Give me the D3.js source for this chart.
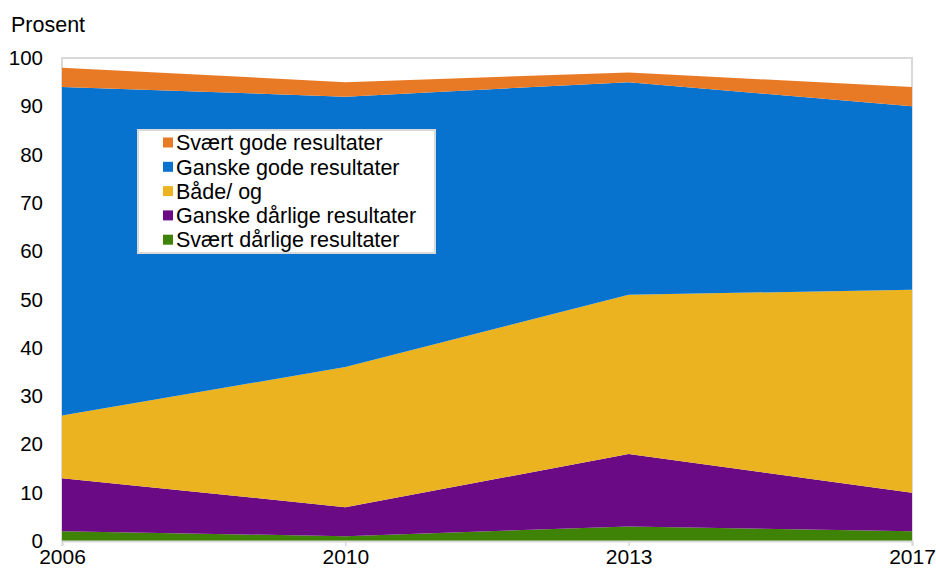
<!DOCTYPE html>
<html><head><meta charset="utf-8">
<script src="https://cdn.jsdelivr.net/npm/d3@7"></script>
<style>body{margin:0;background:#fff}svg{display:block}text{font-family:"Liberation Sans",Arial,sans-serif;fill:#000}</style>
</head><body><svg id="c" width="936" height="568"></svg>
<script>
const years = ["2006","2010","2013","2017"];
const seriesNames = ["Svært dårlige resultater","Ganske dårlige resultater","Både/ og","Ganske gode resultater","Svært gode resultater"];
const svaertDaarlige = [2,1,3,2];
const ganskeDaarlige = [11,6,15,8];
const baadeOg = [13,29,33,42];
const ganskeGode = [68,56,44,38];
const svaertGode = [4,3,2,4];
const colors = ["#3f8306","#6a0a85","#eab31f","#0873cf","#e97a25"];
const yTicks = [0,10,20,30,40,50,60,70,80,90,100];

const svg = d3.select("#c");
const L=62,R=912,T=58,B=541;
const x = d3.scalePoint().domain(years).range([L,R]);
const y = d3.scaleLinear().domain([0,100]).range([B,T]);

const table = years.map((yr,i)=>({year:yr,
  [seriesNames[0]]:svaertDaarlige[i],[seriesNames[1]]:ganskeDaarlige[i],
  [seriesNames[2]]:baadeOg[i],[seriesNames[3]]:ganskeGode[i],[seriesNames[4]]:svaertGode[i]}));
const stacked = d3.stack().keys(seriesNames)(table);

// frame
svg.append("rect").attr("x",L).attr("y",T).attr("width",R-L).attr("height",B-T)
  .attr("fill","none").attr("stroke","#d9d9d9").attr("stroke-width",2);

const area = d3.area().x(d=>x(d.data.year)).y0(d=>y(d[0])).y1(d=>y(d[1]));
svg.append("g").selectAll("path").data(stacked).join("path")
  .attr("d",area).attr("fill",(d,i)=>colors[i]);

// x axis
const xa = svg.append("g").attr("transform",`translate(0,${B})`)
  .call(d3.axisBottom(x).tickSize(5));
xa.select(".domain").attr("stroke","#d9d9d9").attr("stroke-width",2);
xa.selectAll(".tick line").attr("stroke","#d9d9d9").attr("stroke-width",1.5);
xa.selectAll("text").attr("font-size",21).attr("y",23).attr("dy",0).attr("fill","#000");

// y axis
const ya = svg.append("g").attr("transform",`translate(${L},0)`)
  .call(d3.axisLeft(y).tickValues(yTicks).tickSize(0).tickPadding(19));
ya.select(".domain").remove();
ya.selectAll("text").attr("font-size",20.5).attr("fill","#000");

svg.append("text").attr("x",11).attr("y",32).attr("font-size",21.5).text("Prosent");

// legend
const lg = svg.append("g");
lg.append("rect").attr("x",138).attr("y",130).attr("width",297).attr("height",123)
  .attr("fill","#fff").attr("stroke","#d9d9d9").attr("stroke-width",2);
const order = seriesNames.map((n,i)=>({n,c:colors[i]})).reverse();
order.forEach((d,i)=>{
  const cy = 142.5 + i*24.3;
  lg.append("rect").attr("x",163).attr("y",cy-5).attr("width",10).attr("height",10).attr("fill",d.c);
  lg.append("text").attr("x",176).attr("y",cy).attr("dy","0.36em").attr("font-size",21.5).text(d.n);
});
</script></body></html>
